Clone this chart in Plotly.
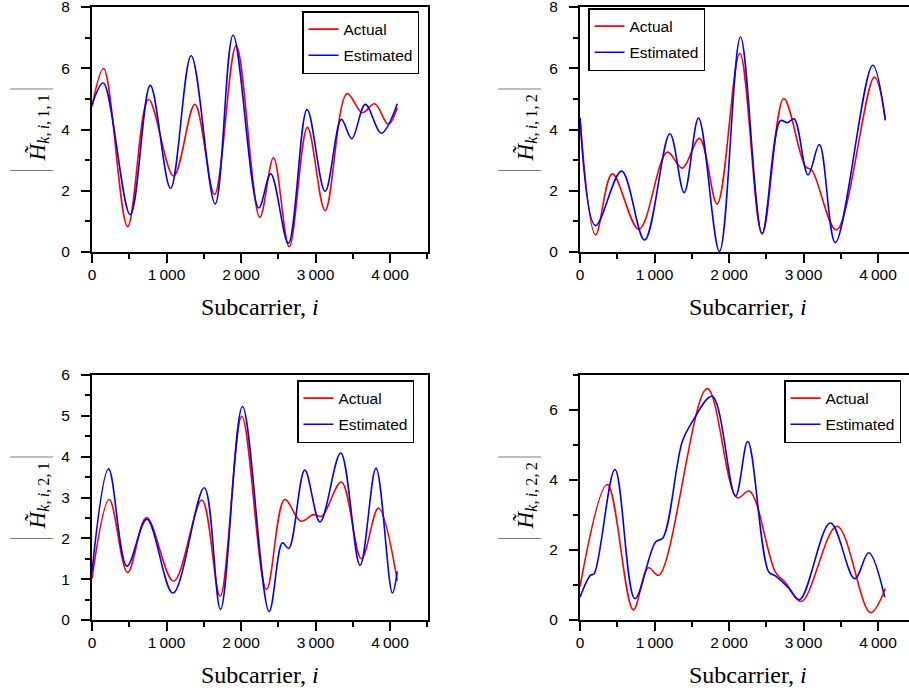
import plotly.graph_objects as go

# Channel magnitude |H~_{k,i,r,t}| per subcarrier: actual vs estimated.
# Points are turning points of each curve, smoothed by Plotly's spline.

h11_act_x = [0, 156, 478, 759, 1095, 1381, 1644, 1935, 2252, 2436, 2646, 2892, 3129, 3423, 3629, 3794, 3977, 4098]
h11_act_y = [4.75, 5.99, 0.83, 4.98, 2.48, 4.82, 1.88, 6.73, 1.13, 3.08, 0.17, 4.07, 1.35, 5.17, 4.55, 4.84, 4.17, 4.71]
h11_est_x = [0, 151, 513, 782, 1054, 1331, 1653, 1894, 2238, 2399, 2636, 2887, 3129, 3347, 3486, 3669, 3884, 4098]
h11_est_y = [4.8, 5.52, 1.22, 5.44, 2.08, 6.41, 1.57, 7.08, 1.44, 2.55, 0.29, 4.65, 1.98, 4.33, 3.70, 4.82, 3.88, 4.84]

h12_act_x = [0, 209, 433, 791, 1171, 1372, 1604, 1841, 2145, 2444, 2735, 3026, 3115, 3441, 3951, 4098]
h12_act_y = [4.38, 0.56, 2.55, 0.74, 3.26, 2.74, 3.71, 1.57, 6.48, 0.59, 5.01, 2.79, 2.66, 0.72, 5.71, 4.35]
h12_est_x = [0, 209, 558, 867, 1206, 1398, 1591, 1872, 2154, 2444, 2690, 2784, 2874, 3061, 3213, 3428, 3928, 4098]
h12_est_y = [4.38, 0.86, 2.64, 0.39, 3.86, 1.94, 4.37, 0.02, 7.02, 0.61, 4.29, 4.22, 4.35, 2.52, 3.51, 0.31, 6.10, 4.30]

h21_act_x = [0, 232, 478, 732, 1095, 1474, 1720, 2011, 2342, 2587, 2802, 2972, 3084, 3347, 3616, 3844, 4098]
h21_act_y = [1.01, 2.95, 1.16, 2.51, 0.95, 2.94, 0.58, 4.99, 0.75, 2.95, 2.42, 2.58, 2.54, 3.38, 1.50, 2.74, 0.96]
h21_est_x = [0, 223, 469, 737, 1086, 1506, 1725, 2020, 2377, 2556, 2641, 2856, 3061, 3338, 3598, 3812, 4031, 4098]
h21_est_y = [1.18, 3.70, 1.32, 2.47, 0.66, 3.24, 0.26, 5.23, 0.21, 1.89, 1.75, 3.67, 2.40, 4.09, 1.34, 3.72, 0.66, 1.19]

h22_act_x = [0, 366, 715, 916, 1059, 1707, 2109, 2275, 2623, 2757, 2972, 3450, 3897, 4098]
h22_act_y = [0.95, 3.87, 0.29, 1.49, 1.28, 6.61, 3.49, 3.68, 1.37, 1.07, 0.53, 2.68, 0.21, 0.90]
h22_est_x = [0, 142, 190, 469, 737, 1014, 1112, 1372, 1506, 1774, 2087, 2252, 2534, 2623, 2802, 2950, 3361, 3687, 3875, 4090]
h22_est_y = [0.65, 1.28, 1.32, 4.30, 0.61, 2.23, 2.34, 5.09, 5.66, 6.39, 3.54, 5.10, 1.37, 1.26, 0.91, 0.58, 2.77, 1.18, 1.92, 0.65]

x_tickvals = [0, 1000, 2000, 3000, 4000]
x_ticktext = ["0", "1\u2009000", "2\u2009000", "3\u2009000", "4\u2009000"]
series_names = ["Actual", "Estimated"]
series_colors = ["#ff0000", "#0000ff"]

panels = [
    # (actual x, actual y, estimated x, estimated y, y max, y major step, indices)
    (h11_act_x, h11_act_y, h11_est_x, h11_est_y, 8, 2, ("1", "1")),
    (h12_act_x, h12_act_y, h12_est_x, h12_est_y, 8, 2, ("1", "2")),
    (h21_act_x, h21_act_y, h21_est_x, h21_est_y, 6, 1, ("2", "1")),
    (h22_act_x, h22_act_y, h22_est_x, h22_est_y, 7, 2, ("2", "2")),
]

W, H = 909, 691
# pixel boxes of the four plotting areas: (left, right, top, bottom)
boxes = [(92, 428, 7, 252), (580, 909, 7, 252), (92, 428, 375, 620), (580, 909, 375, 620)]
px_per_1000 = 74.5
legend_pos = [(302, 11), (588, 8), (297, 380), (784, 380)]

fig = go.Figure()
tick_font = dict(family="Liberation Sans, Arial, sans-serif", size=15.5, color="black")
serif = "Liberation Serif, Times New Roman, serif"
ts = "\u2009"  # thin space

for p, (ax_, ay_, ex_, ey_, ymax, ystep, idx) in enumerate(panels):
    n = "" if p == 0 else str(p + 1)
    leg = "legend" if p == 0 else f"legend{p + 1}"
    for xs, ys, name, col in [(ax_, ay_, series_names[0], series_colors[0]),
                              (ex_, ey_, series_names[1], series_colors[1])]:
        fig.add_trace(go.Scatter(
            x=xs, y=ys, mode="lines", name=name,
            line=dict(color=col, width=1.6, shape="spline", smoothing=1.0),
            xaxis=f"x{n}", yaxis=f"y{n}", legend=leg,
            legendgroup=f"{p}-{name}",
        ))
    l, r, t, b = boxes[p]
    xmax = (r - l) / px_per_1000 * 1000
    right_col = p in (1, 3)
    fig.layout[f"xaxis{n}"] = dict(
        domain=[l / W, r / W], range=[0, xmax], anchor=f"y{n}", automargin=False,
        tickmode="array", tickvals=x_tickvals, ticktext=x_ticktext,
        ticks="outside", ticklen=9, tickwidth=1.5, tickcolor="black",
        minor=dict(tickmode="linear", tick0=0, dtick=500, ticks="outside",
                   ticklen=5, tickwidth=1.5, tickcolor="black"),
        showline=True, linecolor="black", linewidth=2, mirror=True,
        showgrid=False, zeroline=False, tickfont=tick_font, ticklabelstandoff=-2,
        ticklabeloverflow="allow",
    )
    fig.layout[f"yaxis{n}"] = dict(
        domain=[(H - b) / H, (H - t) / H], range=[0, ymax], anchor=f"x{n}", automargin=False,
        tickmode="linear", tick0=0, dtick=ystep,
        ticks="outside", ticklen=9, tickwidth=1.5, tickcolor="black",
        minor=dict(tickmode="linear", tick0=0, dtick=ystep / 2, ticks="outside",
                   ticklen=5, tickwidth=1.5, tickcolor="black"),
        showline=True, linecolor="black", linewidth=2, mirror=not right_col,
        showgrid=False, zeroline=False, tickfont=tick_font, ticklabelstandoff=8,
        ticklabeloverflow="allow",
    )
    lx, ly = legend_pos[p]
    fig.layout[leg] = dict(
        x=lx / W, y=(H - ly) / H, xanchor="left", yanchor="top",
        bordercolor="black", borderwidth=1.5, bgcolor="white",
        font=dict(family="Liberation Sans, Arial, sans-serif", size=15.5, color="black"),
        tracegroupgap=3, itemwidth=30,
    )
    # axis titles
    fig.add_annotation(
        x=(l + 336 / 2) / W, y=(H - (b + 55)) / H, xref="paper", yref="paper",
        text="Subcarrier, <i>i</i>", showarrow=False,
        font=dict(family=serif, size=24, color="black"),
        xanchor="center", yanchor="middle",
    )
    bar = "<span style='font-family:Lato;font-weight:200;font-size:46px'>|</span>"
    sub = f"<i>k</i>,{ts}<i>i</i>,{ts}{idx[0]},{ts}{idx[1]}"
    fig.add_annotation(
        x=(l - 65) / W, y=(H - (t + b) / 2) / H, xref="paper", yref="paper",
        text=f"{bar}{ts}<i>H\u0303</i><sub>{sub}</sub>{bar}",
        showarrow=False, textangle=-90,
        font=dict(family=serif, size=23, color="black"),
        xanchor="center", yanchor="middle",
    )

fig.update_layout(
    width=W, height=H, margin=dict(l=0, r=0, t=0, b=0),
    paper_bgcolor="white", plot_bgcolor="white", showlegend=True,
)

fig.write_html("out.html")
